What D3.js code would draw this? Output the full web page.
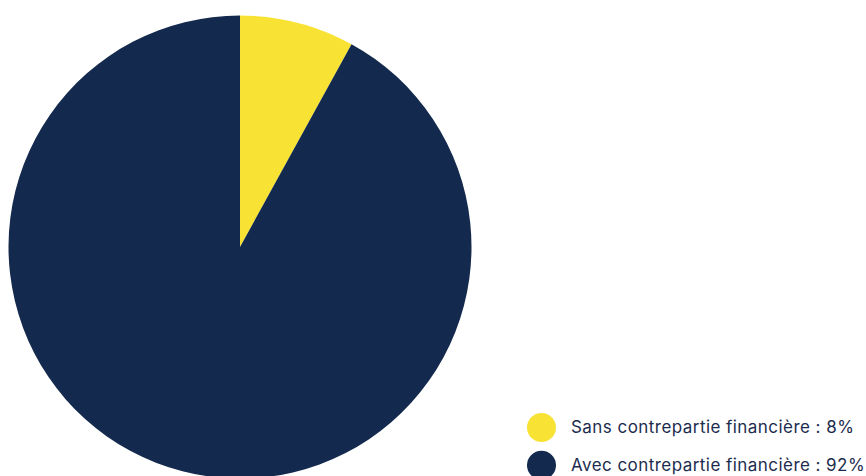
<!DOCTYPE html>
<html>
<head>
<meta charset="utf-8">
<script src="https://cdn.jsdelivr.net/npm/d3@7"></script>
<style>
  html, body { margin: 0; padding: 0; background: #ffffff; }
  svg { display: block; }
</style>
</head>
<body>
<svg id="chart" width="866" height="476"></svg>
<script>
// Répartition des projets selon la contrepartie financière
const categories = ["Sans contrepartie financière", "Avec contrepartie financière"];
const values = [8, 92];
const colors = ["#F8E334", "#13294D"];

const svg = d3.select("#chart");

const cx = 240, cy = 247, radius = 231.5;

const pie = d3.pie().sort(null).value(d => d.value);
const arc = d3.arc().innerRadius(0).outerRadius(radius);

const data = categories.map((c, i) => ({ label: c, value: values[i], color: colors[i] }));

svg.append("g")
  .attr("transform", `translate(${cx},${cy})`)
  .selectAll("path")
  .data(pie(data))
  .join("path")
  .attr("d", arc)
  .attr("fill", d => d.data.color);

// Légende
const legend = svg.append("g").attr("transform", "translate(541.5,427.5)");
const items = legend.selectAll("g")
  .data(data)
  .join("g")
  .attr("transform", (d, i) => `translate(0,${i * 37.7})`);

items.append("circle")
  .attr("r", 14.5)
  .attr("fill", d => d.color);

items.append("text")
  .attr("x", 29.5)
  .attr("y", 5.9)
  .attr("font-family", "Inter, 'Noto Sans', sans-serif")
  .attr("font-size", 17)
  .attr("letter-spacing", "0.45px")
  .attr("fill", "#1C2C4E")
  .text(d => `${d.label} : ${d.value}%`);
</script>
</body>
</html>
